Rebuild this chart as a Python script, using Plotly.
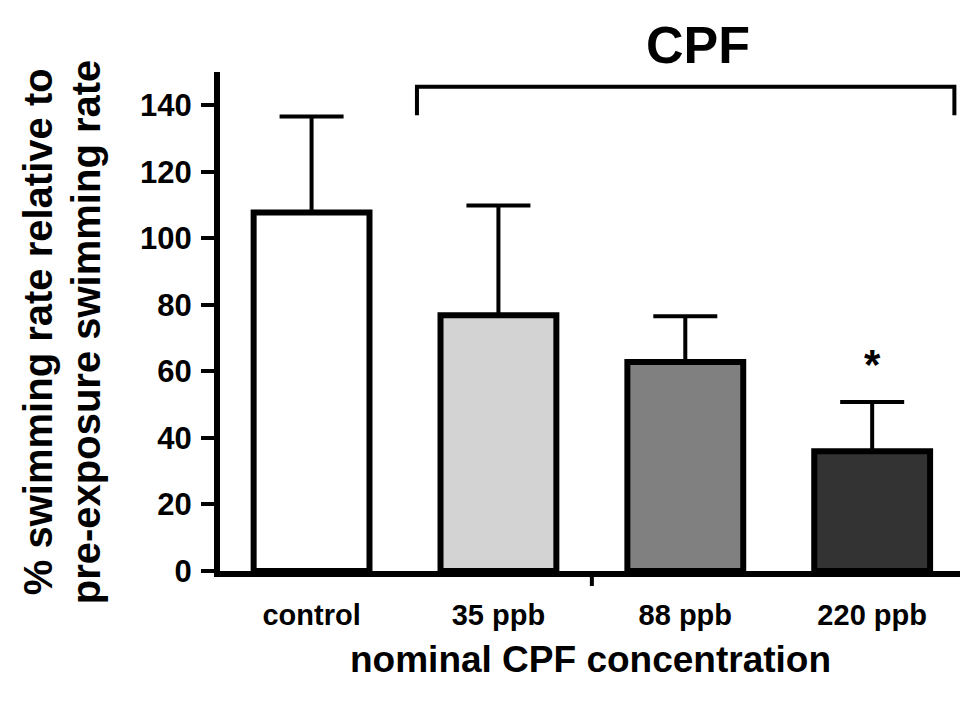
import plotly.graph_objects as go

categories = ["control", "35 ppb", "88 ppb", "220 ppb"]
means = [107.8, 76.9, 62.8, 36.0]
errors_up = [28.8, 33.0, 13.8, 14.8]
bar_colors = ["#ffffff", "#d3d3d3", "#808080", "#333333"]
y_ticks = [0, 20, 40, 60, 80, 100, 120, 140]

FONT = "Liberation Sans, Arial, sans-serif"

fig = go.Figure()
fig.add_trace(go.Bar(
    x=list(range(len(categories))),
    y=means,
    width=0.62,
    marker=dict(color=bar_colors, line=dict(color="black", width=6)),
    error_y=dict(type="data", array=errors_up, arrayminus=[0] * len(means),
                 symmetric=False, color="black", thickness=4, width=32),
    showlegend=False,
))

fig.update_layout(
    width=960, height=701,
    margin=dict(l=220, r=0, t=72, b=130),
    plot_bgcolor="white", paper_bgcolor="white",
    xaxis=dict(
        range=[-0.49, 3.47],
        tickmode="array", tickvals=list(range(len(categories))), ticktext=categories,
        ticks="", showline=True, linecolor="black", linewidth=6,
        showgrid=False, zeroline=False,
        tickfont=dict(family=FONT, size=29, color="black", weight="bold"),
        ticklabelstandoff=13,
    ),
    yaxis=dict(
        range=[0, 150],
        tickmode="array", tickvals=y_ticks,
        ticks="outside", ticklen=13, tickwidth=4, tickcolor="black",
        showline=True, linecolor="black", linewidth=6,
        showgrid=False, zeroline=False,
        tickfont=dict(family=FONT, size=31, color="black", weight="bold"),
        ticklabelstandoff=3,
    ),
)

# x-axis title
fig.add_annotation(text="<b>nominal CPF concentration</b>", xref="paper", yref="paper",
                   x=0.5, y=-0.178, xanchor="center", yanchor="middle", showarrow=False,
                   font=dict(family=FONT, size=37, color="black"))
# y-axis title (two lines)
fig.add_annotation(text="<b>% swimming rate relative to</b>", xref="paper", yref="paper",
                   x=-0.245, y=0.48, xanchor="center", yanchor="middle", showarrow=False,
                   textangle=-90, font=dict(family=FONT, size=40, color="black"))
fig.add_annotation(text="<b>pre-exposure swimming rate</b>", xref="paper", yref="paper",
                   x=-0.18, y=0.48, xanchor="center", yanchor="middle", showarrow=False,
                   textangle=-90, font=dict(family=FONT, size=40, color="black"))
# CPF label
fig.add_annotation(text="<b>CPF</b>", xref="x", yref="paper",
                   x=2.07, y=1.054, xanchor="center", yanchor="middle", showarrow=False,
                   font=dict(family=FONT, size=52, color="black"))
# significance asterisk
fig.add_annotation(text="<b>*</b>", xref="x", yref="y",
                   x=3, y=62, xanchor="center", yanchor="middle", showarrow=False,
                   font=dict(family=FONT, size=42, color="black"))

# bracket over CPF groups
fig.add_shape(type="path", xref="x", yref="y",
              path="M 0.564,137 L 0.564,145.6 L 3.44,145.6 L 3.44,137",
              line=dict(color="black", width=4))
# stray tick below x axis
fig.add_shape(type="line", xref="x", yref="paper", x0=1.5, x1=1.5, y0=0, y1=-0.03,
              line=dict(color="black", width=4))

fig.write_html("out.html")
